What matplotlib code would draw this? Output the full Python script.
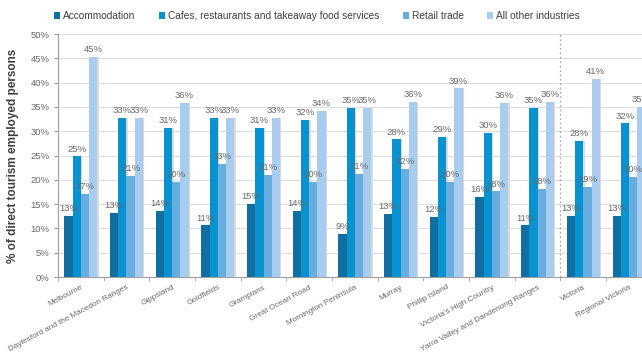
import numpy as np
import matplotlib
matplotlib.use("Agg")
import matplotlib.pyplot as plt
from matplotlib.ticker import FixedLocator

plt.rcParams['font.family'] = ['Liberation Sans', 'DejaVu Sans']

regions = ['Melbourne', 'Daylesford and the Macedon Ranges', 'Gippsland', 'Goldfields',
           'Grampians', 'Great Ocean Road', 'Mornington Peninsula', 'Murray',
           'Phillip Island', "Victoria's High Country", 'Yarra Valley and Dandenong Ranges',
           'Victoria', 'Regional Victoria']
series = ['Accommodation', 'Cafes, restaurants and takeaway food services',
          'Retail trade', 'All other industries']

accommodation = [12.6, 13.2, 13.5, 10.6, 15.0, 13.6, 8.8, 12.9, 12.4, 16.4, 10.6, 12.6, 12.6]
cafes = [24.8, 32.8, 30.7, 32.8, 30.6, 32.3, 34.7, 28.3, 28.9, 29.6, 34.8, 27.9, 31.6]
retail = [17.0, 20.7, 19.6, 23.3, 21.0, 19.6, 21.2, 22.3, 19.5, 17.6, 18.1, 18.6, 20.5]
other = [45.3, 32.7, 35.8, 32.8, 32.8, 34.2, 34.8, 36.1, 38.8, 35.9, 36.0, 40.7, 35.0]

colors = ['#0f6fa3', '#0892cf', '#68ade0', '#a8cdee']

fig = plt.figure(figsize=(6.42, 3.55), dpi=100)
# plot area runs a little past the right edge, as in the original (cropped) chart
ax = fig.add_axes([0.0903, 0.2197, 0.925, 0.6845])

x = np.arange(len(regions))
w = 0.18
for k, (vals, c) in enumerate(zip([accommodation, cafes, retail, other], colors)):
    pos = x + (k - 1.5) * w
    # soft shadow on the right of each bar
    ax.bar(pos + 0.03, vals, w, color='#dadada', zorder=2)
    ax.bar(pos, vals, w, color=c, label=series[k], zorder=3)
    for p, v in zip(pos, vals):
        ax.text(p, v + 0.6, f'{round(v)}%', ha='center', va='bottom',
                fontsize=6.8, color='#6a6a6a', zorder=4)

ax.set_xlim(-0.5, len(regions) - 0.5)
ax.set_ylim(0, 50)
ax.set_yticks(np.arange(0, 51, 5))
ax.set_yticklabels([f'{t}%' for t in range(0, 51, 5)], fontsize=6.8, color='#6a6a6a')
ax.yaxis.grid(True, color='#dedede', linewidth=0.8, zorder=0)
ax.set_axisbelow(True)

ax.set_xticks(x)
ax.set_xticklabels(regions, rotation=28, ha='right', rotation_mode='anchor',
                   fontsize=5.9, color='#6a6a6a')
ax.tick_params(axis='x', length=0, pad=5)
ax.xaxis.set_minor_locator(FixedLocator(np.arange(-0.5, len(regions), 1)))
ax.tick_params(axis='x', which='minor', length=3, color='#a0a0a0')
ax.tick_params(axis='y', length=3, color='#a0a0a0', pad=3)

for s in ['top', 'right']:
    ax.spines[s].set_visible(False)
for s in ['left', 'bottom']:
    ax.spines[s].set_color('#a0a0a0')
    ax.spines[s].set_linewidth(0.8)

ax.axvline(10.5, color='#b8a2b4', linestyle=(0, (1.5, 2)), linewidth=0.9, zorder=1)

ax.set_ylabel('% of direct tourism employed persons', fontsize=8.5, fontweight='bold',
              color='#404040', labelpad=8)

fig.legend(loc='upper left', bbox_to_anchor=(0.07, 0.995), ncol=4, frameon=False,
           fontsize=7.3, handlelength=0.6, handleheight=0.6, handletextpad=0.3,
           columnspacing=2.3, labelcolor='#404040')

fig.savefig('out.png', dpi=100)
